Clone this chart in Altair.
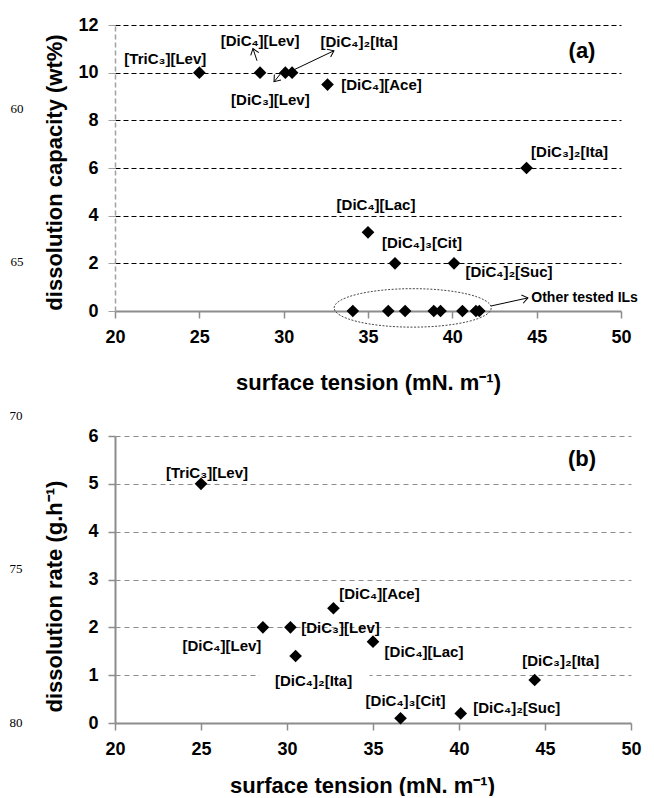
import math
import altair as alt
import pandas as pd

FONT = "Liberation Sans"

# ---------------- panel (a): dissolution capacity ----------------
cap_names = ["[TriC₃][Lev]", "[DiC₄][Lev]", "[DiC₃][Lev]", "[DiC₄]₂[Ita]", "[DiC₄][Ace]",
             "[DiC₃]₂[Ita]", "[DiC₄][Lac]", "[DiC₄]₃[Cit]", "[DiC₄]₂[Suc]"]
cap_tension = [25.0, 28.6, 30.1, 30.5, 32.6, 44.4, 35.0, 36.6, 40.1]
cap_value = [10, 10, 10, 10, 9.5, 6, 3.3, 2, 2]
other_tension = [34.1, 36.2, 37.2, 38.9, 39.3, 40.6, 41.4, 41.6]
other_value = [0, 0, 0, 0, 0, 0, 0, 0]
other_label = "Other tested ILs"

# label offsets (pixels) for panel (a)
cap_dx = [-34, 0, -15, 67, 54, 43, 8, 27, 55]
cap_dy = [-14, -32, 27, -31, 0, -16, -27, -20, 9]

# arrows for panel (a): tail -> tip, data units
arr_x1 = [28.42, 29.96, 30.49, 42.29]
arr_y1 = [10.50, 10.08, 10.08, 0.21]
arr_x2 = [28.18, 29.43, 32.98, 44.48]
arr_y2 = [11.01, 9.62, 10.92, 0.55]

# ---------------- panel (b): dissolution rate ----------------
rate_names = ["[TriC₃][Lev]", "[DiC₄][Lev]", "[DiC₃][Lev]", "[DiC₄]₂[Ita]", "[DiC₄][Ace]",
              "[DiC₄][Lac]", "[DiC₃]₂[Ita]", "[DiC₄]₃[Cit]", "[DiC₄]₂[Suc]"]
rate_tension = [25.0, 28.6, 30.2, 30.5, 32.7, 35.0, 44.4, 36.6, 40.1]
rate_value = [5, 2, 2, 1.4, 2.4, 1.7, 0.9, 0.1, 0.2]
rate_dx = [6, -41, 50, 18, 46, 51, 26, 5, 56]
rate_dy = [-11, 19, 1, 25, -14, 10, -19, -17, -5]

line_numbers_a = ["60", "65"]
line_numbers_b = ["70", "75", "80"]

X_TICKS = [20, 25, 30, 35, 40, 45, 50]
W1, H1 = 506, 286
W2, H2 = 516, 287
XT = "surface tension (mN. m⁻¹)"
YT1 = "dissolution capacity (wt%)"
YT2 = "dissolution rate (g.h⁻¹)"

ARROW = "M-1,-0.75L0,0L-1,0.75"
ELLIPSE = "M-1,0A1,0.245,0,1,1,1,0A1,0.245,0,1,1,-1,0Z"
LBL = 15

common_axis = dict(labelFont=FONT, labelFontSize=18, labelFontWeight="bold", labelColor="black",
                   labelFlush=False, labelOverlap=False,
                   titleFont=FONT, titleFontSize=22, titleFontWeight="bold", titleColor="black",
                   tickSize=7, labelPadding=10)

# ---------- top ----------
ax_x1 = alt.Axis(values=X_TICKS, grid=False, domainColor="#8c8c8c", domainWidth=2, tickColor="#8c8c8c",
                 tickWidth=1.5, titleY=78, titleBaseline="alphabetic", **common_axis)
ax_y1 = alt.Axis(values=[0, 2, 4, 6, 8, 10, 12], grid=True, gridColor="black", gridDash=[5, 3], gridWidth=1,
                 gridOpacity={"condition": {"test": "datum.value === 0", "value": 0}, "value": 1},
                 domainColor="#a0a0a0", domainDash=[5, 3], domainWidth=1.5, tickColor="#a0a0a0",
                 titleX=-54, titleY=147, titleBaseline="alphabetic", titleAngle=270, **common_axis)
sx1 = alt.Scale(domain=[20, 50], nice=False, zero=False)
sy1 = alt.Scale(domain=[0, 12], nice=False)


def X1(f):
    return alt.X(f, type="quantitative", scale=sx1, axis=ax_x1, title=XT)


def Y1(f):
    return alt.Y(f, type="quantitative", scale=sy1, axis=ax_y1, title=YT1)


cap_df = pd.DataFrame({"i": range(len(cap_names)), "name": cap_names, "st": cap_tension, "v": cap_value})
oth_df = pd.DataFrame({"st": other_tension, "v": other_value})

pxu1x, pxu1y = W1 / 30.0, H1 / 12.0
arr_df = pd.DataFrame({"st": arr_x1, "v": arr_y1, "st2": arr_x2, "v2": arr_y2})
arr_df["ang"] = [math.degrees(math.atan2(-(b2 - b1) * pxu1y, (a2 - a1) * pxu1x)) % 360
                 for a1, b1, a2, b2 in zip(arr_x1, arr_y1, arr_x2, arr_y2)]

top_layers = []
# ellipse around other ILs
ell_df = pd.DataFrame({"st": [(min(other_tension) + max(other_tension)) / 2 - 0.2], "v": [0.13]})
top_layers.append(alt.Chart(ell_df).mark_point(shape=ELLIPSE, filled=False, size=157 * 157, color="#333333",
                                               strokeWidth=0.9, strokeDash=[2, 1.5], opacity=1)
                  .encode(x=X1("st"), y=Y1("v")))
top_layers.append(alt.Chart(arr_df).mark_rule(color="black", strokeWidth=1)
                  .encode(x=X1("st"), y=Y1("v"), x2=alt.X2("st2"), y2=alt.Y2("v2")))
top_layers.append(alt.Chart(arr_df).mark_point(shape=ARROW, filled=False, size=130, color="black",
                                               strokeWidth=1, opacity=1)
                  .encode(x=X1("st2"), y=Y1("v2"), angle=alt.Angle("ang:Q", scale=None)))
top_layers.append(alt.Chart(pd.concat([cap_df[["st", "v"]], oth_df])).mark_point(
    shape="diamond", filled=True, color="black", size=160, opacity=1).encode(x=X1("st"), y=Y1("v")))
for i in range(len(cap_names)):
    top_layers.append(alt.Chart(cap_df).transform_filter(alt.datum.i == i).mark_text(
        font=FONT, fontSize=LBL, fontWeight="bold", color="black", align="center", baseline="middle",
        dx=cap_dx[i], dy=cap_dy[i]).encode(x=X1("st"), y=Y1("v"), text="name:N"))
oth_lab_df = pd.DataFrame({"st": [max(other_tension)], "v": [other_value[0]], "t": [other_label]})
top_layers.append(alt.Chart(oth_lab_df).mark_text(
    font=FONT, fontSize=14, fontWeight="bold", color="black", align="left", baseline="middle",
    dx=52, dy=-13).encode(x=X1("st"), y=Y1("v"), text="t:N"))
# panel tag
top_layers.append(alt.Chart(pd.DataFrame({"t": ["(a)"]})).mark_text(
    font=FONT, fontSize=22, fontWeight="bold", color="black", align="center", baseline="middle").encode(
    x=alt.value(467), y=alt.value(26), text="t:N"))
# line numbers
ln_a = pd.DataFrame({"t": line_numbers_a, "py": [84, 237]})
top_layers.append(alt.Chart(ln_a).mark_text(
    font="Liberation Serif", fontSize=13, color="black", align="center", baseline="middle").encode(
    x=alt.value(-98), y=alt.Y("py:Q", scale=None), text="t:N"))

top = alt.layer(*top_layers).properties(width=W1, height=H1)

# ---------- bottom ----------
ax_x2 = alt.Axis(values=X_TICKS, grid=False, domainColor="#8c8c8c", domainWidth=2, tickColor="#8c8c8c",
                 tickWidth=1.5, titleY=69, titleX=247, titleBaseline="alphabetic", **common_axis)
ax_y2 = alt.Axis(values=[0, 1, 2, 3, 4, 5, 6], grid=True, gridColor="#8c8c8c", gridDash=[5, 4], gridWidth=1,
                 gridOpacity={"condition": {"test": "datum.value === 0", "value": 0}, "value": 1},
                 domainColor="#8c8c8c", domainWidth=2, tickColor="#8c8c8c", tickWidth=1.5,
                 titleX=-54, titleY=160, titleBaseline="alphabetic", titleAngle=270, **common_axis)
sx2 = alt.Scale(domain=[20, 50], nice=False, zero=False)
sy2 = alt.Scale(domain=[0, 6], nice=False)


def X2(f):
    return alt.X(f, type="quantitative", scale=sx2, axis=ax_x2, title=XT)


def Y2(f):
    return alt.Y(f, type="quantitative", scale=sy2, axis=ax_y2, title=YT2)


rate_df = pd.DataFrame({"i": range(len(rate_names)), "name": rate_names, "st": rate_tension, "v": rate_value})

bot_layers = []
# white label box interrupting the gridline behind [DiC4]2[Ita]
box_df = pd.DataFrame({"st": [28.4], "st2": [34.8], "v": [0.88], "v2": [1.1]})
bot_layers.append(alt.Chart(box_df).mark_rect(color="white").encode(
    x=X2("st"), x2=alt.X2("st2"), y=Y2("v"), y2=alt.Y2("v2")))
bot_layers.append(alt.Chart(rate_df).mark_point(shape="diamond", filled=True, color="black", size=160,
                                                opacity=1).encode(x=X2("st"), y=Y2("v")))
for i in range(len(rate_names)):
    bot_layers.append(alt.Chart(rate_df).transform_filter(alt.datum.i == i).mark_text(
        font=FONT, fontSize=LBL, fontWeight="bold", color="black", align="center", baseline="middle",
        dx=rate_dx[i], dy=rate_dy[i]).encode(x=X2("st"), y=Y2("v"), text="name:N"))
bot_layers.append(alt.Chart(pd.DataFrame({"t": ["(b)"]})).mark_text(
    font=FONT, fontSize=22, fontWeight="bold", color="black", align="center", baseline="middle").encode(
    x=alt.value(467), y=alt.value(23), text="t:N"))
ln_b = pd.DataFrame({"t": line_numbers_b, "py": [-20, 133, 287]})
bot_layers.append(alt.Chart(ln_b).mark_text(
    font="Liberation Serif", fontSize=13, color="black", align="center", baseline="middle").encode(
    x=alt.value(-99), y=alt.Y("py:Q", scale=None), text="t:N"))

bottom = alt.layer(*bot_layers).properties(width=W2, height=H2)

chart = alt.vconcat(top, bottom, spacing=17).properties(
    padding={"left": 1, "top": 8, "right": 0, "bottom": 0}
).resolve_scale(x="independent", y="independent").configure_view(stroke=None)

chart.save("out.html", embed_options={"renderer": "svg", "actions": False})
